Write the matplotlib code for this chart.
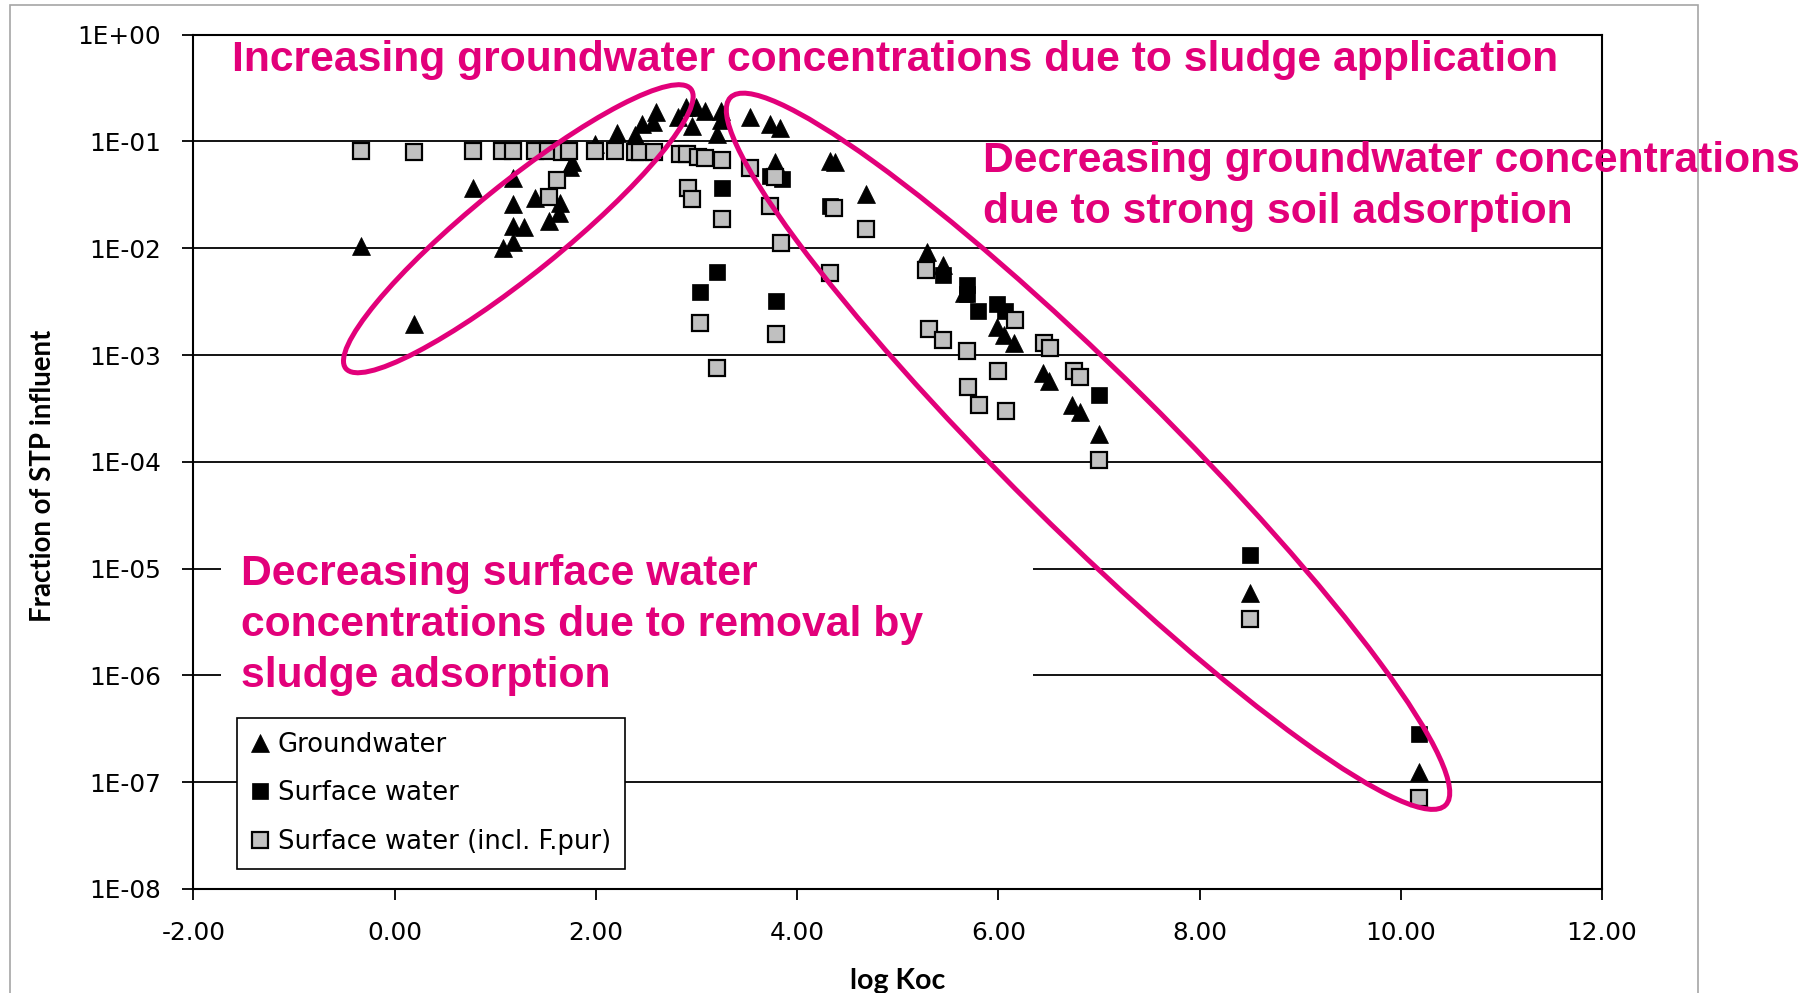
import matplotlib
matplotlib.use('Agg')
import matplotlib.pyplot as plt
from matplotlib.patches import Ellipse, Rectangle
from matplotlib.transforms import IdentityTransform
from matplotlib.ticker import NullLocator

# ---------------- data ----------------
gw_logkoc = [-0.33, 0.19, 0.78, 1.18, 1.18, 1.40, 1.18, 1.29, 1.18, 1.08,
             1.645, 1.63, 1.54, 1.74, 1.76, 1.99, 2.21, 2.39, 2.46, 2.57,
             2.60, 2.82, 2.90, 2.96, 3.00, 3.09, 3.20, 3.24, 3.24, 3.53,
             3.73, 3.83, 3.78, 4.33, 4.38, 4.69, 5.29, 5.45, 5.66, 5.99,
             6.06, 6.16, 6.44, 6.50, 6.73, 6.81, 7.00, 8.50, 10.18]
gw_frac = [0.0104, 0.00197, 0.037, 0.046, 0.026, 0.0295, 0.0163, 0.0158, 0.0115, 0.0100,
           0.0264, 0.0212, 0.018, 0.058, 0.064, 0.095, 0.119, 0.114, 0.146, 0.151,
           0.19, 0.171, 0.21, 0.141, 0.21, 0.195, 0.118, 0.195, 0.158, 0.171,
           0.146, 0.135, 0.064, 0.065, 0.064, 0.032, 0.0092, 0.0070, 0.0038, 0.00184,
           0.00155, 0.0013, 0.00068, 0.00057, 0.00034, 0.00029, 0.000184, 5.95e-6, 1.25e-7]

sw_logkoc = [3.04, 3.20, 3.25, 3.79, 3.73, 3.85, 4.33, 5.455, 5.69, 5.69,
             5.80, 5.99, 6.07, 7.00, 8.50, 10.18]
sw_frac = [0.0039, 0.006, 0.037, 0.0032, 0.048, 0.045, 0.025, 0.0056, 0.0045, 0.0037,
           0.0026, 0.0030, 0.0026, 0.00042, 1.35e-5, 2.8e-7]

swf_logkoc = [-0.33, 0.19, 0.78, 1.065, 1.18, 1.40, 1.53, 1.66, 1.73, 1.99,
              2.19, 2.39, 2.44, 2.58, 2.84, 2.905, 3.02, 3.09, 3.25,
              1.61, 1.54, 2.92, 2.96, 3.25, 3.78, 3.73, 3.84, 3.53, 3.04,
              3.79, 3.20, 4.37, 4.69, 4.33, 5.28, 5.31, 5.455, 5.69, 5.70,
              5.81, 6.00, 6.08, 6.17, 6.45, 6.51, 6.75, 6.81, 7.00, 8.50, 10.18]
swf_frac = [0.082, 0.079, 0.082, 0.081, 0.082, 0.082, 0.082, 0.079, 0.082, 0.081,
            0.081, 0.079, 0.079, 0.079, 0.077, 0.077, 0.072, 0.070, 0.067,
            0.044, 0.030, 0.037, 0.029, 0.019, 0.047, 0.025, 0.0113, 0.057, 0.00199,
            0.00158, 0.00075, 0.024, 0.015, 0.0059, 0.0063, 0.00174, 0.00138, 0.0011, 0.0005,
            0.00034, 0.00071, 0.0003, 0.00215, 0.0013, 0.00116, 0.00071, 0.00062, 0.000103, 3.35e-6, 7.1e-8]

series_labels = ["Groundwater", "Surface water", "Surface water (incl. F.pur)"]

y_ticks = [1e0, 1e-1, 1e-2, 1e-3, 1e-4, 1e-5, 1e-6, 1e-7, 1e-8]
y_tick_labels = ["1E+00", "1E-01", "1E-02", "1E-03", "1E-04",
                 "1E-05", "1E-06", "1E-07", "1E-08"]
x_ticks = [-2, 0, 2, 4, 6, 8, 10, 12]
x_tick_labels = ["-2.00", "0.00", "2.00", "4.00", "6.00", "8.00", "10.00", "12.00"]

x_label = "log Koc"
y_label = "Fraction of STP influent"
note_top = "Increasing groundwater concentrations due to sludge application"
note_right = "Decreasing groundwater concentrations\ndue to strong soil adsorption"
note_left = "Decreasing surface water\nconcentrations due to removal by\nsludge adsorption"

# ---------------- styling ----------------
MAG = '#E2007A'
W, H = 1815, 993
fig = plt.figure(figsize=(W / 100, H / 100), dpi=100)
fig.patch.set_facecolor('white')
ax = fig.add_axes([193.3 / W, 1 - 889 / H, (1602 - 193.3) / W, (889 - 34.7) / H])

ax.set_yscale('log')
ax.set_xlim(-2, 12)
ax.set_ylim(1e-8, 1)
ax.set_yticks(y_ticks)
ax.set_yticklabels(y_tick_labels)
ax.yaxis.set_minor_locator(NullLocator())
ax.set_xticks(x_ticks)
ax.set_xticklabels(x_tick_labels)

ax.grid(axis='y', color='black', lw=1.3)
ax.grid(axis='x', visible=False)
ax.set_axisbelow(True)
for s in ax.spines.values():
    s.set_linewidth(1.5)
    s.set_color('black')
ax.tick_params(axis='both', direction='out', length=8, width=1.3, pad=15,
               labelsize=17.8, colors='black')
for lab in ax.get_xticklabels() + ax.get_yticklabels():
    lab.set_family('DejaVu Sans')

ax.set_xlabel(x_label, fontsize=20.5, fontweight='bold', family='Lato')
ax.xaxis.set_label_coords(0.5, -0.0925)
ax.set_ylabel(y_label, fontsize=19.9, fontweight='bold', family='Lato')
ax.yaxis.set_label_coords(-0.0978, 0.484)

# white box behind the lower-left note (hides grid lines there)
ax.add_patch(Rectangle((-1.725, 10 ** -6.3), 6.342 + 1.725, 10 ** -4.25 - 10 ** -6.3,
                       transform=ax.transData, fc='white', ec='none', zorder=1))

ax.plot(gw_logkoc, gw_frac, ls='none', marker='^', ms=13, mfc='black', mec='black',
        mew=0.5, zorder=3, label=series_labels[0])
ax.plot(sw_logkoc, sw_frac, ls='none', marker='s', ms=12, mfc='black', mec='black',
        mew=0.5, zorder=4, label=series_labels[1])
ax.plot(swf_logkoc, swf_frac, ls='none', marker='s', ms=11, mfc='#C0C0C0', mec='black',
        mew=1.6, zorder=5, label=series_labels[2])

tkw = dict(color=MAG, fontsize=30.7, fontweight='bold', family='Liberation Sans',
           ha='left', va='center', zorder=7, linespacing=1.36)
ax.text(-1.62, 10 ** -0.238, note_top, **tkw)
ax.text(5.847, 10 ** -1.425, note_right, clip_on=False, **tkw)
ax.text(-1.528, 10 ** -5.527, note_left, **tkw)

leg = ax.legend(loc='upper left', bbox_to_anchor=(0.0312, 0.2005), borderaxespad=0,
                frameon=True, fancybox=False, edgecolor='black', framealpha=1,
                prop={'family': 'DejaVu Sans', 'size': 18.6}, borderpad=0.55,
                labelspacing=0.87, handlelength=0.68, handletextpad=0.33, numpoints=1)
leg.get_frame().set_linewidth(1.2)
leg.set_zorder(8)

# ellipses (positioned from data coordinates, sized in pixels)
c1 = ax.transData.transform((1.230, 10 ** -1.817))
c2 = ax.transData.transform((6.892, 10 ** -3.901))
fig.add_artist(Ellipse(c1, 444, 90, angle=39, transform=IdentityTransform(), fill=False,
                       ec=MAG, lw=3.6, clip_on=False, zorder=6))
fig.add_artist(Ellipse(c2, 1006, 156, angle=-44.7, transform=IdentityTransform(), fill=False,
                       ec=MAG, lw=3.6, clip_on=False, zorder=6))

# outer chart border
fig.add_artist(Rectangle((10 / W, -0.02), 1688 / W, (H - 5) / H + 0.02,
                         transform=fig.transFigure, fill=False, ec='#A6A6A6', lw=1.2))

fig.savefig('out.png', dpi=100, facecolor='white')
